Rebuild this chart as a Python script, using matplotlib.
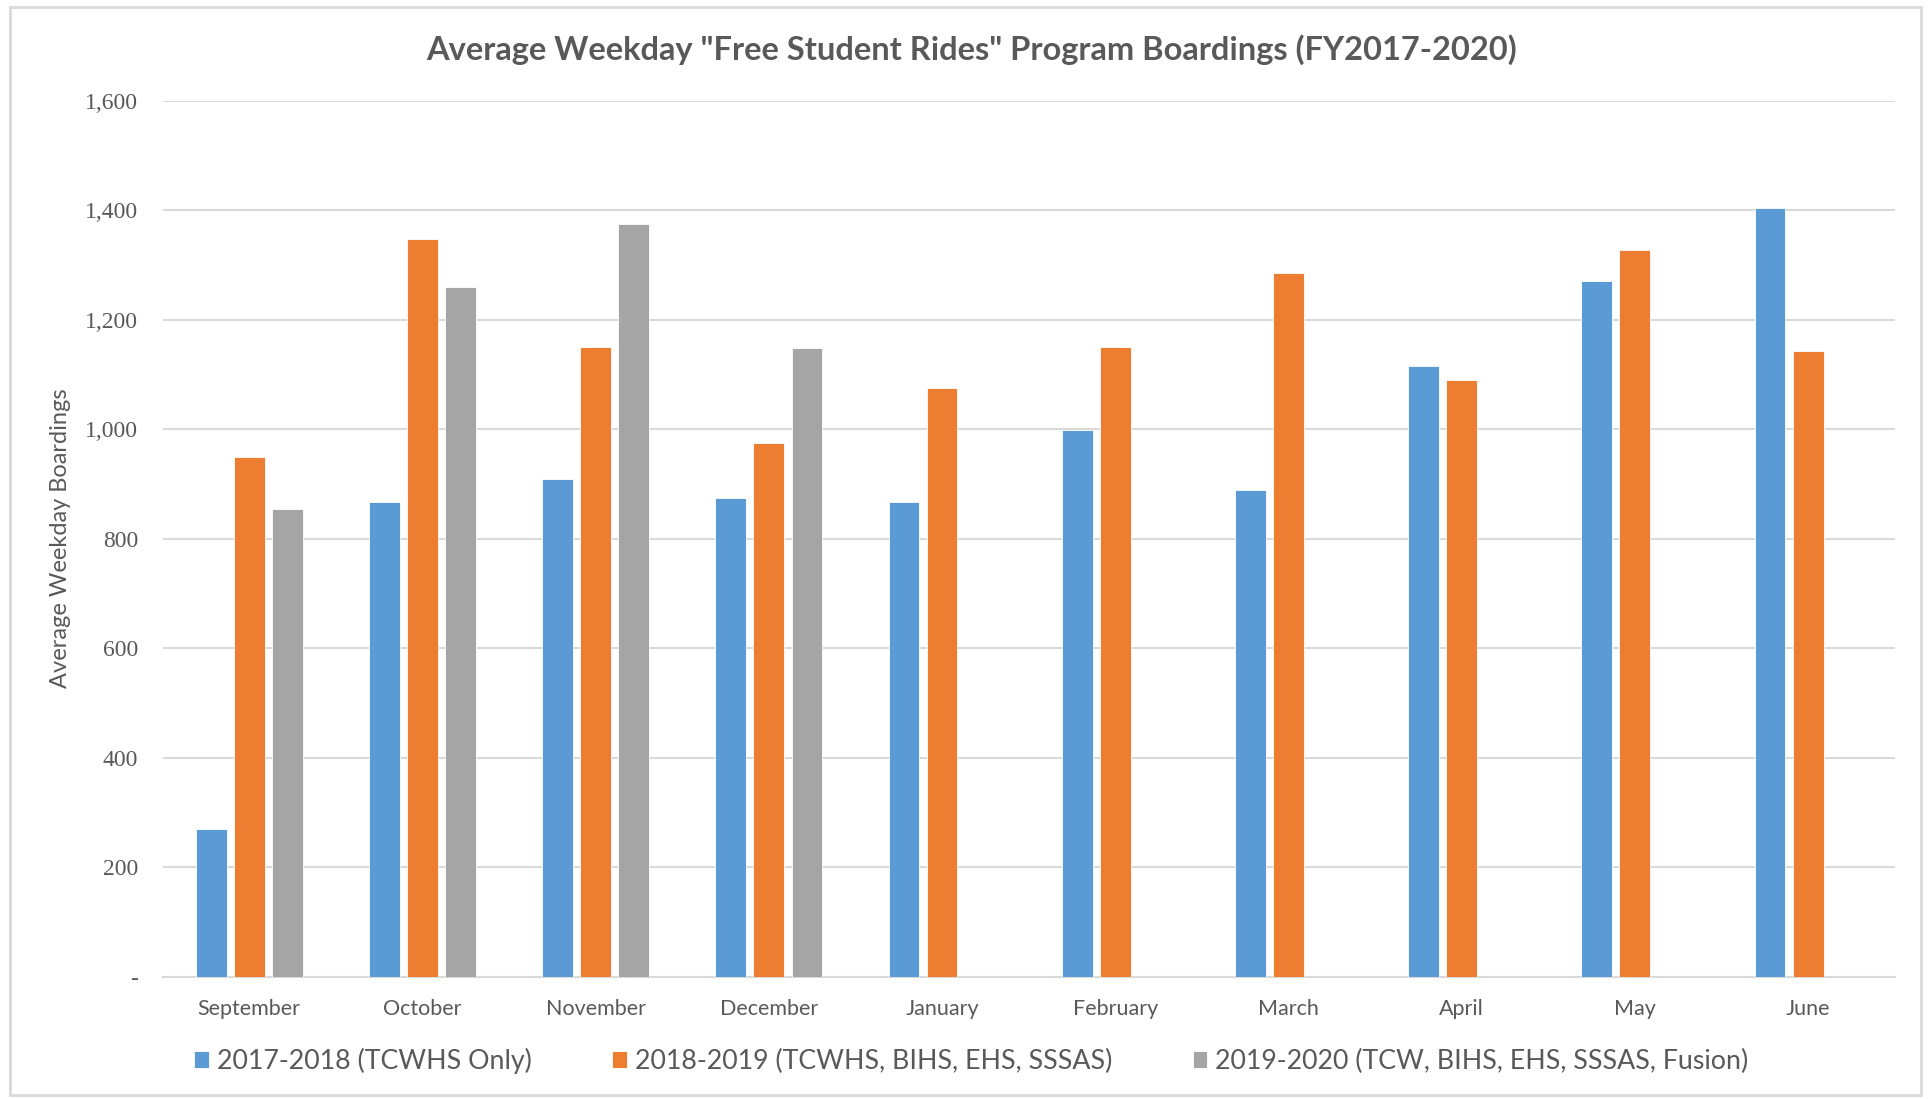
import numpy as np
import matplotlib.pyplot as plt
from matplotlib.patches import Rectangle
from matplotlib.ticker import FuncFormatter

plt.rcParams['font.family'] = ['Lato', 'DejaVu Sans']

months = ['September', 'October', 'November', 'December', 'January',
          'February', 'March', 'April', 'May', 'June']
fy2018 = [270, 866, 909, 875, 866, 999, 889, 1116, 1271, 1404]
fy2019 = [950, 1348, 1150, 974, 1076, 1150, 1285, 1089, 1328, 1143]
fy2020 = [855, 1260, 1375, 1148, np.nan, np.nan, np.nan, np.nan, np.nan, np.nan]
series_names = ['2017-2018 (TCWHS Only)',
                '2018-2019 (TCWHS, BIHS, EHS, SSSAS)',
                '2019-2020 (TCW, BIHS, EHS, SSSAS, Fusion)']
colors = ['#5B9BD5', '#ED7D31', '#A5A5A5']
yticks = [0, 200, 400, 600, 800, 1000, 1200, 1400, 1600]

fig = plt.figure(figsize=(19.31, 10.99), dpi=100)
ax = fig.add_axes([0.0842, 0.1114, 0.897, 0.797])

x = np.arange(len(months))
w = 0.178
step = 0.22
for i, (vals, name, c) in enumerate(zip([fy2018, fy2019, fy2020], series_names, colors)):
    ax.bar(x + (i - 1) * step, vals, w, color=c, label=name,
           edgecolor='white', linewidth=0.6, zorder=3)

ax.set_xlim(-0.5, len(months) - 0.5)
ax.set_ylim(0, 1600)
ax.set_yticks(yticks)
ax.yaxis.set_major_formatter(FuncFormatter(lambda v, p: '-' if v == 0 else f'{int(v):,}'))
ax.set_xticks(x)
ax.set_xticklabels(months)
ax.grid(axis='y', color='#D9D9D9', linewidth=1.5, zorder=0)
for s in ['top', 'right', 'left']:
    ax.spines[s].set_visible(False)
ax.spines['bottom'].set_color('#D9D9D9')
ax.spines['bottom'].set_linewidth(1.5)
ax.tick_params(axis='both', length=0, colors='#595959')
ax.tick_params(axis='x', pad=16, labelsize=15.5)
ax.tick_params(axis='y', pad=17.5, labelsize=17)
for lab in ax.get_yticklabels():
    lab.set_family(['Liberation Serif', 'DejaVu Serif'])
ax.set_ylabel('Average Weekday Boardings', color='#595959', fontsize=17, labelpad=10.5)

fig.text(0.503, 0.955, 'Average Weekday "Free Student Rides" Program Boardings (FY2017-2020)',
         ha='center', va='center', fontsize=23.5, fontweight='bold', color='#595959')

leg = fig.legend(loc='center', bbox_to_anchor=(0.503, 0.0346), ncol=3, frameon=False,
                 fontsize=19.3, handlelength=0.55, handleheight=0.55, columnspacing=3.0,
                 handletextpad=0.3)
for t in leg.get_texts():
    t.set_color('#595959')

fig.patches.append(Rectangle((0.005, 0.004), 0.99, 0.99, transform=fig.transFigure,
                             fill=False, edgecolor='#D9D9D9', linewidth=2))

fig.savefig('out.png', dpi=100)
